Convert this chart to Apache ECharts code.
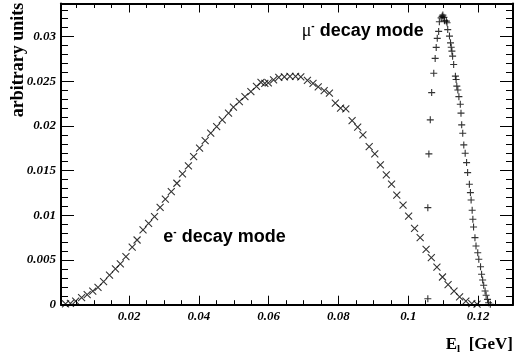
<!DOCTYPE html>
<html><head><meta charset="utf-8">
<script src="https://cdn.jsdelivr.net/npm/echarts@6/dist/echarts.min.js"></script>
<style>html,body{margin:0;padding:0;background:#fff}#c{width:515px;height:356px}</style>
</head><body><div id="c"></div>
<script>
// e- decay mode (x markers)
const eX = [0.0018,0.0032,0.0047,0.0064,0.0080,0.0096,0.0111,0.0127,0.0144,0.0161,0.0175,0.0191,0.0209,0.0223,0.0240,0.0256,0.0273,0.0289,0.0304,0.0321,0.0337,0.0353,0.0370,0.0385,0.0402,0.0418,0.0434,0.0451,0.0467,0.0485,0.0499,0.0516,0.0532,0.0549,0.0565,0.0578,0.0589,0.0599,0.0614,0.0629,0.0645,0.0661,0.0677,0.0692,0.0711,0.0727,0.0742,0.0759,0.0774,0.0791,0.0806,0.0821,0.0839,0.0855,0.0870,0.0888,0.0904,0.0920,0.0937,0.0952,0.0967,0.0985,0.1001,0.1018,0.1034,0.1051,0.1066,0.1082,0.1098,0.1114,0.1131,0.1147,0.1165,0.1182,0.1197];
const eY = [0.00008,0.00016,0.00041,0.00078,0.00112,0.00153,0.00195,0.00257,0.00332,0.00400,0.00456,0.00537,0.00643,0.00724,0.00836,0.00911,0.00985,0.01090,0.01180,0.01265,0.01359,0.01463,0.01553,0.01657,0.01751,0.01836,0.01919,0.01993,0.02068,0.02143,0.02210,0.02272,0.02328,0.02384,0.02443,0.02487,0.02476,0.02482,0.02515,0.02543,0.02549,0.02555,0.02555,0.02549,0.02510,0.02476,0.02437,0.02396,0.02367,0.02255,0.02199,0.02191,0.02060,0.01986,0.01900,0.01769,0.01687,0.01564,0.01452,0.01349,0.01226,0.01114,0.00990,0.00855,0.00750,0.00620,0.00526,0.00420,0.00310,0.00224,0.00151,0.00088,0.00041,0.00013,0.00006];
// mu- decay mode (+ markers)
const muX = [0.1056,0.1056,0.1059,0.1063,0.1067,0.1073,0.1077,0.1080,0.1083,0.1087,0.1089,0.1094,0.1097,0.1099,0.1102,0.1104,0.1109,0.1111,0.1113,0.1118,0.1121,0.1123,0.1125,0.1127,0.1130,0.1135,0.1137,0.1139,0.1142,0.1145,0.1149,0.1151,0.1153,0.1156,0.1159,0.1163,0.1167,0.1170,0.1175,0.1178,0.1180,0.1183,0.1185,0.1187,0.1191,0.1194,0.1199,0.1202,0.1207,0.1210,0.1213,0.1216,0.1220,0.1223,0.1227,0.1230,0.1235];
const muY = [0.00067,0.01086,0.01687,0.02068,0.02373,0.02590,0.02756,0.02879,0.02980,0.03058,0.03165,0.03209,0.03226,0.03240,0.03215,0.03176,0.03173,0.03154,0.03078,0.03005,0.02930,0.02881,0.02837,0.02781,0.02687,0.02557,0.02519,0.02445,0.02403,0.02328,0.02243,0.02143,0.02012,0.01919,0.01788,0.01695,0.01590,0.01478,0.01348,0.01254,0.01172,0.01057,0.00956,0.00870,0.00750,0.00657,0.00582,0.00508,0.00425,0.00340,0.00277,0.00217,0.00153,0.00105,0.00060,0.00022,0.00004];
// axes
const xRange = [0.0005, 0.13];
const yRange = [0, 0.0337];
const xMajorTicks = [0.02,0.04,0.06,0.08,0.1,0.12];
const xMinorTicks = [0.005,0.01,0.015,0.025,0.03,0.035,0.045,0.05,0.055,0.065,0.07,0.075,0.085,0.09,0.095,0.105,0.11,0.115,0.125];
const yMajorTicks = [0,0.005,0.01,0.015,0.02,0.025,0.03];
const yMinorTicks = [0.001,0.002,0.003,0.004,0.006,0.007,0.008,0.009,0.011,0.012,0.013,0.014,0.016,0.017,0.018,0.019,0.021,0.022,0.023,0.024,0.026,0.027,0.028,0.029,0.031,0.032,0.033];

const labelFont = {fontFamily:'Liberation Serif', fontWeight:'bold', fontStyle:'italic', fontSize:13, color:'#000'};
function axis(dim, pos, ticks, len, showLine, labels) {
  const r = dim === 'x' ? xRange : yRange;
  return {
    type:'value', position:pos, min:r[0], max:r[1],
    axisLine:{show:showLine, onZero:false, lineStyle:{color:'#000', width:2}},
    axisTick:{show:true, inside:true, length:len, customValues:ticks, lineStyle:{color:'#000', width:1}},
    axisLabel: labels ? Object.assign({show:true, customValues:ticks, margin:5}, labelFont) : {show:false},
    splitLine:{show:false}, minorTick:{show:false}
  };
}
const xAxes = [
  axis('x','bottom',xMajorTicks,9,true,true),
  axis('x','bottom',xMinorTicks,4.5,false,false),
  axis('x','top',xMajorTicks,9,true,false),
  axis('x','top',xMinorTicks,4.5,false,false)
];
const yAxes = [
  axis('y','left',yMajorTicks,13,true,true),
  axis('y','left',yMinorTicks,7,false,false),
  axis('y','right',yMajorTicks,13,true,false),
  axis('y','right',yMinorTicks,7,false,false)
];

const chart = echarts.init(document.getElementById('c'), null, {renderer:'canvas'});
chart.setOption({
  animation:false,
  backgroundColor:'#fff',
  grid:{left:61, right:2, top:3.5, bottom:51.3, containLabel:false},
  xAxis:xAxes, yAxis:yAxes,
  series:[
    {type:'scatter', name:'e', xAxisIndex:0, yAxisIndex:0,
     data:eX.map((x,i)=>[x,eY[i]]),
     symbol:'path://M0,0L10,10M10,0L0,10', symbolSize:7,
     itemStyle:{color:'none', borderColor:'#000', borderWidth:1.1},
     emphasis:{disabled:true}},
    {type:'scatter', name:'mu', xAxisIndex:0, yAxisIndex:0,
     data:muX.map((x,i)=>[x,muY[i]]),
     symbol:'path://M5,0L5,10M0,5L10,5', symbolSize:7,
     itemStyle:{color:'none', borderColor:'#000', borderWidth:1.1},
     emphasis:{disabled:true}}
  ],
  graphic:[
    {type:'text', x:18.5, y:60, rotation:Math.PI/2,
     style:{text:'arbitrary units', fontFamily:'Liberation Serif', fontWeight:'bold', fontSize:18, fill:'#000', align:'center', verticalAlign:'middle'}},
    {type:'text', x:513, y:345,
     style:{text:'{e|E}{s|l}{e|  [GeV]}', align:'right', verticalAlign:'middle', fill:'#000',
       rich:{e:{fontFamily:'Liberation Serif', fontWeight:'bold', fontSize:17, lineHeight:20, fill:'#000'},
             s:{fontFamily:'Liberation Serif', fontWeight:'bold', fontSize:11, lineHeight:11, verticalAlign:'bottom', fill:'#000'}}}},
    {type:'text', x:163.3, y:237,
     style:{text:'{t|e}{u|-}{t| decay mode}', align:'left', verticalAlign:'middle', fill:'#000',
       rich:{t:{fontFamily:'Liberation Sans', fontWeight:'bold', fontSize:18, lineHeight:19, fill:'#000'},
             u:{fontFamily:'Liberation Sans', fontWeight:'bold', fontSize:10, lineHeight:12, verticalAlign:'top', fill:'#000'}}}},
    {type:'text', x:301.7, y:31,
     style:{text:'{m|μ}{u|-}{t| decay mode}', align:'left', verticalAlign:'middle', fill:'#000',
       rich:{t:{fontFamily:'Liberation Sans', fontWeight:'bold', fontSize:18, lineHeight:19, fill:'#000'},
             m:{fontFamily:'Liberation Serif', fontSize:18, lineHeight:19, fill:'#000'},
             u:{fontFamily:'Liberation Sans', fontWeight:'bold', fontSize:10, lineHeight:12, verticalAlign:'top', fill:'#000'}}}}
  ]
});
</script>
</body></html>
